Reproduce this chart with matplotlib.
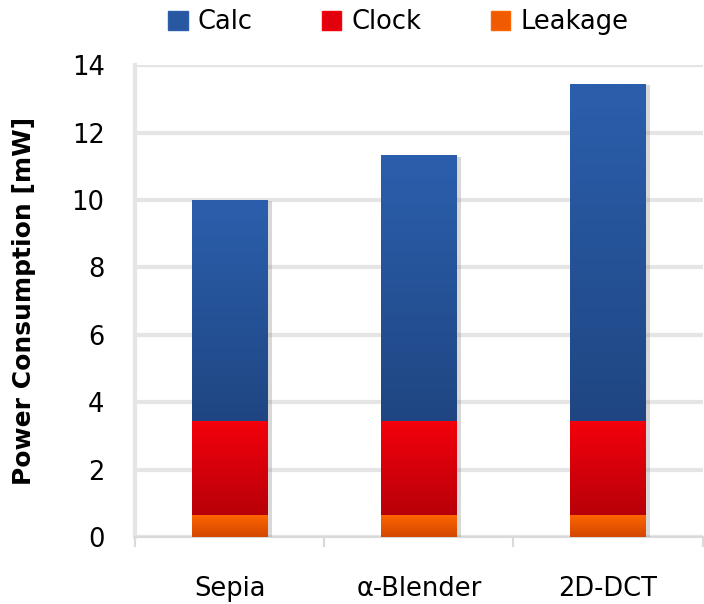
import numpy as np
import matplotlib
matplotlib.use('Agg')
import matplotlib.pyplot as plt
from matplotlib import patheffects as pe
from matplotlib.colors import LinearSegmentedColormap
from matplotlib.patches import Patch

# dados
categorias = ['Sepia', 'α-Blender', '2D-DCT']
leakage = [0.65, 0.65, 0.65]
clock = [2.8, 2.8, 2.8]
calc = [6.55, 7.88, 10.0]

series = ['Calc', 'Clock', 'Leakage']
# (topo, base) de cada gradiente
cores = {
    'Calc': ('#2b5fad', '#1f4682'),
    'Clock': ('#f4000c', '#b80008'),
    'Leakage': ('#ff6400', '#d24800'),
}
cores_legenda = {'Calc': '#2858a0', 'Clock': '#e2000c', 'Leakage': '#f05a00'}

fig = plt.figure(figsize=(7.04, 6.04), dpi=100)
ax = fig.add_axes([0.192, 0.111, 0.806, 0.781])

x = np.arange(len(categorias))
largura = 0.4
base = np.zeros(len(categorias))
for nome, vals in [('Leakage', leakage), ('Clock', clock), ('Calc', calc)]:
    topo_c, base_c = cores[nome]
    bars = ax.bar(x, vals, largura, bottom=base, color=topo_c, zorder=3,
                  edgecolor='none',
                  path_effects=[pe.SimplePatchShadow(offset=(3, -1), shadow_rgbFace='#909090', alpha=0.35),
                                pe.Normal()])
    cmap = LinearSegmentedColormap.from_list(nome, [base_c, topo_c])
    grad = np.linspace(0, 1, 256).reshape(-1, 1)
    for b in bars:
        x0, y0 = b.get_x(), b.get_y()
        im = ax.imshow(grad, cmap=cmap, origin='lower', aspect='auto', zorder=4,
                       extent=[x0, x0 + b.get_width(), y0, y0 + b.get_height()])
        im.set_clip_path(b)
    base = base + np.array(vals)

ax.set_xlim(-0.5, 2.5)
ax.set_ylim(0, 14)
ax.set_yticks(np.arange(0, 15, 2))
ax.set_xticks(x)
ax.set_xticklabels(categorias, fontsize=18.5)
ax.tick_params(axis='y', labelsize=18.5, length=0, pad=22)
ax.tick_params(axis='x', which='major', length=0, pad=28)
ax.set_xticks([-0.5, 0.5, 1.5, 2.5], minor=True)
ax.tick_params(axis='x', which='minor', length=7, color='#d9d9d9', width=1.5)

ax.grid(axis='y', color='#e5e5e5', linewidth=3, zorder=0)
for s in ['top', 'right']:
    ax.spines[s].set_visible(False)
ax.spines['left'].set_color('#e5e5e5')
ax.spines['left'].set_linewidth(3)
ax.spines['bottom'].set_color('#d9d9d9')
ax.spines['bottom'].set_linewidth(1.5)

ax.set_ylabel('Power Consumption [mW]', fontsize=18, fontweight='bold', labelpad=26)

proxies = [Patch(facecolor=cores_legenda[s], edgecolor=cores[s][0]) for s in series]
fig.legend(proxies, series, loc='center', ncol=3,
           bbox_to_anchor=(0.566, 0.963), frameon=False, fontsize=18.5,
           handlelength=0.75, handleheight=0.75, handletextpad=0.4, columnspacing=2.7)

fig.savefig('out.png', dpi=100)
